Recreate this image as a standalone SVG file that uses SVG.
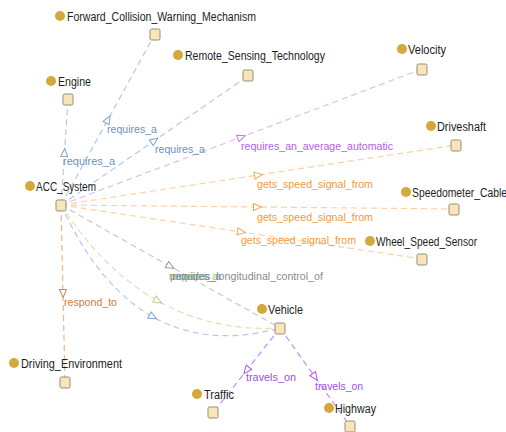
<svg xmlns="http://www.w3.org/2000/svg" width="506" height="432" viewBox="0 0 506 432">
<style>
.e{fill:none;stroke-width:1.2;stroke-dasharray:6 4}
.dot{fill:#d3a93c}
.sq{fill:#f8e6b8;stroke:#958c7c;stroke-width:1}
.nl{font-family:"Liberation Sans",Arial,sans-serif;font-size:12px;fill:#1e1e1e}
.el{font-family:"Liberation Sans",Arial,sans-serif;font-size:11.5px}
.blue{stroke:#b1cbe6;marker-mid:url(#mBlue)}
.purp{stroke:#e2bcf3;marker-mid:url(#mPurp)}
.oran{stroke:#fbd2a2;marker-mid:url(#mOran)}
.resp{stroke:#efb68e;marker-mid:url(#mResp)}
.gray{stroke:#c9c9c9;marker-mid:url(#mGray)}
.oliv{stroke:#e3dfb4;marker-mid:url(#mOliv)}
.trav{stroke:#c38ef0;marker-mid:url(#mTrav)}
</style>
<defs>
<marker id="mBlue" viewBox="-1 -5 11 10" markerWidth="11" markerHeight="10" refX="4" refY="0" orient="auto" markerUnits="userSpaceOnUse"><path d="M0,-3.5 L8,0 L0,3.5 Z" fill="#fff" stroke="#7ea2cb" stroke-width="1"/></marker>
<marker id="mPurp" viewBox="-1 -5 11 10" markerWidth="11" markerHeight="10" refX="4" refY="0" orient="auto" markerUnits="userSpaceOnUse"><path d="M0,-3.5 L8,0 L0,3.5 Z" fill="#fff" stroke="#c178e6" stroke-width="1"/></marker>
<marker id="mOran" viewBox="-1 -5 11 10" markerWidth="11" markerHeight="10" refX="4" refY="0" orient="auto" markerUnits="userSpaceOnUse"><path d="M0,-3.5 L8,0 L0,3.5 Z" fill="#fff" stroke="#f5a651" stroke-width="1"/></marker>
<marker id="mResp" viewBox="-1 -5 11 10" markerWidth="11" markerHeight="10" refX="4" refY="0" orient="auto" markerUnits="userSpaceOnUse"><path d="M0,-3.5 L8,0 L0,3.5 Z" fill="#fff" stroke="#d8854a" stroke-width="1"/></marker>
<marker id="mGray" viewBox="-1 -5 11 10" markerWidth="11" markerHeight="10" refX="4" refY="0" orient="auto" markerUnits="userSpaceOnUse"><path d="M0,-3.5 L8,0 L0,3.5 Z" fill="#fff" stroke="#999" stroke-width="1"/></marker>
<marker id="mOliv" viewBox="-1 -5 11 10" markerWidth="11" markerHeight="10" refX="4" refY="0" orient="auto" markerUnits="userSpaceOnUse"><path d="M0,-3.5 L8,0 L0,3.5 Z" fill="#fff" stroke="#c9c290" stroke-width="1"/></marker>
<marker id="mTrav" viewBox="-1 -5 11 10" markerWidth="11" markerHeight="10" refX="4" refY="0" orient="auto" markerUnits="userSpaceOnUse"><path d="M0,-3.5 L8,0 L0,3.5 Z" fill="#fff" stroke="#a85ae6" stroke-width="1"/></marker>
</defs>
<rect width="506" height="432" fill="#fff"/>
<g id="connectors">
<path class="e blue" d="M61,205 L64.5,152.5 L68,100"/>
<path class="e blue" d="M61,205 L108,119.5 L155,34"/>
<path class="e blue" d="M61,205 L154.5,140.5 L248,76"/>
<path class="e purp" d="M61,205 L241.5,137 L422,69"/>
<path class="e oran" d="M61,205 L258.5,175 L456,145"/>
<path class="e oran" d="M61,205 L257.5,207 L454,209"/>
<path class="e oran" d="M61,205 L241.5,232 L422,259"/>
<path class="e gray" d="M61,205 L170.5,266.5 L280,328"/>
<path class="e oliv" d="M61,205 Q103.25,270.25 158,301 Q212.75,331.75 280,328"/>
<path class="e blue" d="M61,205 Q98.25,286.25 153,317 Q207.75,347.75 280,328"/>
<path class="e resp" d="M61,205 L63,293.5 L65,382"/>
<path class="e trav" d="M280,328 L246.5,370.5 L213,413"/>
<path class="e trav" d="M280,328 L315,377 L350,426"/>
<g class="el">
<text x="63" y="165" fill="#6b93c0" textLength="52" lengthAdjust="spacingAndGlyphs">requires_a</text>
<text x="107" y="133" fill="#6b93c0" textLength="50" lengthAdjust="spacingAndGlyphs">requires_a</text>
<text x="155" y="153" fill="#6b93c0" textLength="50" lengthAdjust="spacingAndGlyphs">requires_a</text>
<text x="241" y="150" fill="#b062de" textLength="152" lengthAdjust="spacingAndGlyphs">requires_an_average_automatic</text>
<text x="257" y="188" fill="#f39a3a" textLength="116" lengthAdjust="spacingAndGlyphs">gets_speed_signal_from</text>
<text x="257" y="221" fill="#f39a3a" textLength="116" lengthAdjust="spacingAndGlyphs">gets_speed_signal_from</text>
<text x="241" y="244" fill="#f39a3a" textLength="115" lengthAdjust="spacingAndGlyphs">gets_speed_signal_from</text>
<text x="170" y="280" fill="#8c8c8c" textLength="153" lengthAdjust="spacingAndGlyphs">provides_longitudinal_control_of</text>
<text x="169" y="280" fill="#bdb35e" textLength="49" lengthAdjust="spacingAndGlyphs">requires_a</text>
<text x="172" y="280" fill="#6b93c0" textLength="49" lengthAdjust="spacingAndGlyphs">requires_a</text>
<text x="64" y="306" fill="#cf7b3c" textLength="53" lengthAdjust="spacingAndGlyphs">respond_to</text>
<text x="246" y="381" fill="#9d4fe0" textLength="50" lengthAdjust="spacingAndGlyphs">travels_on</text>
<text x="315" y="390" fill="#9d4fe0" textLength="48" lengthAdjust="spacingAndGlyphs">travels_on</text>
</g>
</g>
<g id="Forward_Collision_Warning_Mechanism"><circle class="dot" cx="60" cy="16" r="5"/><text class="nl" x="67" y="21" textLength="189" lengthAdjust="spacingAndGlyphs">Forward_Collision_Warning_Mechanism</text><rect class="sq" x="150" y="29" width="10" height="11" rx="1.5"/></g>
<g id="Remote_Sensing_Technology"><circle class="dot" cx="178" cy="55" r="5"/><text class="nl" x="185" y="60" textLength="140" lengthAdjust="spacingAndGlyphs">Remote_Sensing_Technology</text><rect class="sq" x="243" y="70" width="10" height="11" rx="1.5"/></g>
<g id="Engine"><circle class="dot" cx="51" cy="81" r="5"/><text class="nl" x="58" y="86" textLength="33" lengthAdjust="spacingAndGlyphs">Engine</text><rect class="sq" x="63" y="94" width="10" height="11" rx="1.5"/></g>
<g id="ACC_System"><circle class="dot" cx="30" cy="186" r="5"/><text class="nl" x="36" y="191" textLength="60" lengthAdjust="spacingAndGlyphs">ACC_System</text><rect class="sq" x="56" y="200" width="10" height="11" rx="1.5"/></g>
<g id="Velocity"><circle class="dot" cx="402" cy="49" r="5"/><text class="nl" x="408" y="54" textLength="38" lengthAdjust="spacingAndGlyphs">Velocity</text><rect class="sq" x="417" y="64" width="10" height="11" rx="1.5"/></g>
<g id="Driveshaft"><circle class="dot" cx="431" cy="126" r="5"/><text class="nl" x="437" y="131" textLength="49" lengthAdjust="spacingAndGlyphs">Driveshaft</text><rect class="sq" x="451" y="140" width="10" height="11" rx="1.5"/></g>
<g id="Speedometer_Cable"><circle class="dot" cx="406" cy="192" r="5"/><text class="nl" x="412" y="197" textLength="95" lengthAdjust="spacingAndGlyphs">Speedometer_Cable</text><rect class="sq" x="449" y="204" width="10" height="11" rx="1.5"/></g>
<g id="Wheel_Speed_Sensor"><circle class="dot" cx="370" cy="241" r="5"/><text class="nl" x="376" y="246" textLength="101" lengthAdjust="spacingAndGlyphs">Wheel_Speed_Sensor</text><rect class="sq" x="417" y="254" width="10" height="11" rx="1.5"/></g>
<g id="Vehicle"><circle class="dot" cx="262" cy="309" r="5"/><text class="nl" x="268" y="314" textLength="35" lengthAdjust="spacingAndGlyphs">Vehicle</text><rect class="sq" x="275" y="323" width="10" height="11" rx="1.5"/></g>
<g id="Driving_Environment"><circle class="dot" cx="14" cy="363" r="5"/><text class="nl" x="21" y="368" textLength="101" lengthAdjust="spacingAndGlyphs">Driving_Environment</text><rect class="sq" x="60" y="377" width="10" height="11" rx="1.5"/></g>
<g id="Traffic"><circle class="dot" cx="197" cy="394" r="5"/><text class="nl" x="204" y="399" textLength="30" lengthAdjust="spacingAndGlyphs">Traffic</text><rect class="sq" x="208" y="407" width="10" height="11" rx="1.5"/></g>
<g id="Highway"><circle class="dot" cx="329" cy="408" r="5"/><text class="nl" x="335" y="413" textLength="41" lengthAdjust="spacingAndGlyphs">Highway</text><rect class="sq" x="345" y="421" width="10" height="11" rx="1.5"/></g>
</svg>
